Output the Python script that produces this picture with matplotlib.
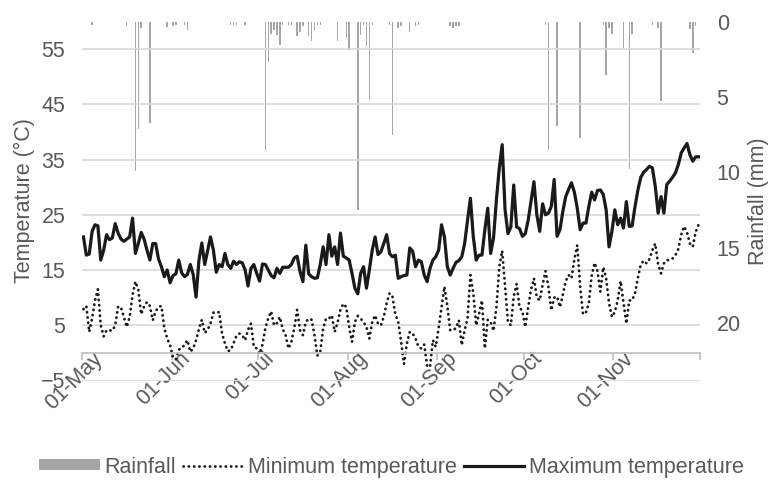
import pandas as pd
import matplotlib
matplotlib.use("Agg")
import matplotlib.pyplot as plt
from matplotlib.patches import Patch
from matplotlib.lines import Line2D
from matplotlib.transforms import ScaledTranslation

plt.rcParams["font.family"] = ["Liberation Sans", "DejaVu Sans"]

# ── daily series, 01-May to 30-Nov ─────────────────────────────
start_date = "2019-05-01"
end_date = "2019-11-30"

max_temp = [
    21.0, 17.7, 17.9, 22.0, 23.2, 23.0, 16.8, 18.6, 21.4, 20.5,
    20.8, 23.4, 21.7, 20.6, 20.2, 20.6, 21.0, 24.4, 18.0, 19.8,
    21.8, 20.6, 18.6, 16.8, 19.8, 19.8, 17.0, 15.6, 13.8, 15.0,
    12.7, 14.0, 14.3, 16.8, 14.5, 13.8, 14.2, 16.0, 14.2, 10.1,
    16.8, 19.9, 16.0, 18.5, 21.0, 18.6, 14.6, 16.0, 15.6, 18.0,
    16.0, 15.3, 16.6, 16.0, 16.5, 16.3, 15.0, 12.1, 15.3, 16.0,
    14.4, 13.0, 16.1, 16.0, 15.0, 14.0, 13.6, 15.3, 14.4, 15.5,
    15.5, 15.5, 16.0, 17.2, 17.5, 14.7, 12.9, 19.5, 14.3, 13.8,
    13.5, 13.6, 16.0, 19.2, 16.0, 21.4, 17.5, 19.2, 16.0, 21.7,
    17.5, 17.2, 16.8, 14.4, 11.7, 10.7, 14.4, 15.6, 11.7, 15.0,
    18.6, 21.0, 17.8, 18.3, 19.8, 21.4, 18.0, 17.4, 17.7, 13.5,
    13.8, 14.0, 14.1, 19.0, 18.4, 15.6, 16.8, 16.5, 14.1, 12.9,
    15.3, 16.8, 17.4, 18.6, 23.2, 21.0, 15.6, 14.1, 15.3, 16.4,
    16.7, 17.4, 19.8, 24.0, 28.0, 21.0, 16.8, 17.7, 17.7, 22.3,
    26.2, 18.0, 20.8, 27.7, 33.5, 37.7, 25.9, 21.6, 22.8, 30.4,
    22.8, 22.5, 21.1, 21.6, 24.0, 27.5, 31.0, 25.0, 22.0, 27.0,
    25.0, 25.3, 26.5, 31.4, 21.1, 22.3, 25.6, 28.3, 29.6, 30.8,
    29.1, 26.2, 22.3, 23.5, 23.5, 26.5, 29.1, 27.7, 29.4, 29.5,
    28.7, 25.9, 19.2, 22.0, 25.9, 23.2, 24.4, 22.6, 27.4, 22.9,
    23.0, 26.5, 29.5, 31.8, 32.7, 33.2, 33.8, 33.5, 30.2, 25.3,
    28.3, 25.3, 30.5, 31.1, 31.8, 32.6, 34.1, 36.2, 37.1, 37.9,
    35.9, 34.7, 35.5, 35.5,
]

min_temp = [
    7.9, 8.5, 3.8, 6.2, 9.5, 11.5, 5.0, 3.0, 4.1, 4.1,
    4.0, 5.0, 8.4, 8.2, 6.5, 4.7, 6.5, 10.5, 12.9, 11.4,
    7.0, 8.4, 9.2, 8.5, 5.9, 7.5, 8.3, 8.5, 4.5, 2.6,
    1.4, -0.8, -1.2, 0.6, 0.8, 1.5, 2.3, 0.2, 0.8, 2.3,
    4.3, 6.0, 3.6, 4.2, 5.3, 7.3, 7.2, 7.4, 3.5, 1.7,
    0.3, 0.5, 1.8, 3.1, 3.5, 3.2, 2.3, 4.2, 5.3, 1.1,
    0.8, -0.2, 1.5, 4.5, 6.3, 7.5, 5.0, 5.4, 6.5, 4.3,
    3.2, 0.8, 2.0, 4.5, 7.8, 4.1, 3.2, 5.6, 6.2, 6.0,
    3.2, -0.5, 0.2, 4.4, 6.2, 6.2, 6.8, 3.8, 5.5, 7.8,
    8.9, 8.3, 4.7, 2.0, 5.6, 6.7, 6.2, 5.6, 4.7, 2.6,
    5.6, 6.8, 5.3, 5.0, 6.5, 9.0, 10.8, 10.2, 7.0, 5.6,
    2.0, -2.0, 1.7, 3.8, 3.5, 2.6, 1.1, 0.8, 1.5, -2.3,
    -2.6, 2.3, 1.1, 4.5, 8.3, 12.0, 8.5, 4.1, 4.1, 4.5,
    5.9, 1.4, 4.1, 6.2, 14.1, 10.8, 5.0, 7.1, 9.5, 0.8,
    6.0, 5.6, 4.0, 8.3, 15.6, 18.5, 12.0, 5.6, 5.0, 10.2,
    12.5, 8.3, 7.5, 4.7, 8.3, 11.5, 13.5, 10.0, 9.5, 12.3,
    14.8, 12.0, 7.7, 10.0, 10.2, 8.3, 10.5, 13.0, 14.1, 13.5,
    17.0, 19.5, 12.0, 7.0, 7.3, 9.0, 14.0, 16.3, 14.8, 11.1,
    15.5, 13.5, 9.0, 6.5, 7.4, 9.5, 13.0, 9.2, 5.3, 9.5,
    9.5, 10.8, 13.6, 16.0, 16.7, 16.2, 17.0, 18.6, 19.8, 16.0,
    14.4, 16.2, 16.8, 16.8, 17.1, 17.7, 18.8, 21.4, 22.9, 21.8,
    19.8, 19.2, 21.9, 23.2,
]

# rainy days only; every other day is dry
rain_dates = [
    "2019-05-04", "2019-05-16", "2019-05-19", "2019-05-20", "2019-05-21",
    "2019-05-24", "2019-05-30", "2019-06-01", "2019-06-02", "2019-06-05",
    "2019-06-06", "2019-06-21", "2019-06-22", "2019-06-23", "2019-06-26",
    "2019-07-03", "2019-07-04", "2019-07-05", "2019-07-06", "2019-07-07",
    "2019-07-08", "2019-07-09", "2019-07-11", "2019-07-12", "2019-07-14",
    "2019-07-15", "2019-07-16", "2019-07-18", "2019-07-19", "2019-07-20",
    "2019-07-21", "2019-07-22", "2019-07-28", "2019-07-31", "2019-08-01",
    "2019-08-04", "2019-08-05", "2019-08-06", "2019-08-07", "2019-08-08",
    "2019-08-09", "2019-08-15", "2019-08-16", "2019-08-18", "2019-08-19",
    "2019-08-22", "2019-08-24", "2019-08-25", "2019-09-05", "2019-09-06",
    "2019-09-07", "2019-09-08", "2019-10-08", "2019-10-09", "2019-10-12",
    "2019-10-20", "2019-10-28", "2019-10-29", "2019-10-30", "2019-10-31",
    "2019-11-04", "2019-11-06", "2019-11-07", "2019-11-14", "2019-11-16",
    "2019-11-17", "2019-11-27", "2019-11-28", "2019-11-29",
]
rain_mm = [
    0.2, 0.3, 9.9, 7.1, 0.4,
    6.7, 0.35, 0.3, 0.2, 0.2,
    0.55, 0.2, 0.2, 0.2, 0.2,
    8.5, 2.7, 0.8, 0.55, 0.9,
    1.55, 0.2, 0.2, 0.2, 0.95,
    0.7, 0.3, 0.95, 1.3, 0.55,
    0.2, 0.2, 1.3, 1.1, 1.9,
    12.5, 0.9, 0.2, 1.6, 5.2,
    0.2, 0.2, 7.55, 0.4, 0.3,
    0.7, 0.3, 0.2, 0.3, 0.4,
    0.3, 0.3, 0.2, 8.55, 6.95,
    7.7, 0.2, 3.55, 0.4, 0.8,
    1.8, 9.8, 0.8, 0.2, 0.4,
    5.3, 0.5, 2.1, 0.3,
]

month_ticks = ["2019-05-01", "2019-06-01", "2019-07-01", "2019-08-01",
               "2019-09-01", "2019-10-01", "2019-11-01", "2019-12-01"]
month_labels = ["01-May", "01-Jun", "01-Jul", "01-Aug",
                "01-Sep", "01-Oct", "01-Nov", ""]
temp_ticks = [-5, 5, 15, 25, 35, 45, 55]
rain_ticks = [0, 5, 10, 15, 20]

# ── styles ─────────────────────────────────────────────────────
TEXT = "#595959"
GRID = "#D9D9D9"
AXIS = "#BFBFBF"
BAR = "#A6A6A6"
LINE = "#1A1A1A"
FS = 15.5
DOTTED = (0, (0.1, 1.8))

days = pd.date_range(start_date, end_date, freq="D")
xpos = days + pd.Timedelta(hours=12)
rain = (pd.Series(rain_mm, index=pd.to_datetime(rain_dates))
        .reindex(days, fill_value=0.0))

fig = plt.figure(figsize=(7.75, 4.8), dpi=100)
ax = fig.add_axes([82 / 775, 1 - 380.5 / 480, 618 / 775, 359 / 480])
ax2 = ax.twinx()
ax.set_zorder(ax2.get_zorder() + 1)
ax.patch.set_visible(False)

# rainfall hangs down from the top on a reversed axis
ax2.bar(xpos, rain.values, width=0.5, color=BAR, linewidth=0)
ax2.set_ylim(23.8, 0)
ax2.set_yticks(rain_ticks)
ax2.tick_params(axis="y", length=0, labelcolor=TEXT, labelsize=FS, pad=12)
ax2.set_ylabel("Rainfall (mm)", color=TEXT, fontsize=FS, labelpad=5)
for s in ax2.spines.values():
    s.set_visible(False)

ax.plot(xpos, min_temp, color=LINE, lw=2.0, ls=DOTTED, dash_capstyle="round")
ax.plot(xpos, max_temp, color=LINE, lw=2.3, solid_joinstyle="round")

ax.set_ylim(-5, 60)
ax.set_yticks(temp_ticks)
ax.grid(axis="y", color=GRID, lw=1.2)
ax.set_axisbelow(True)
ax.tick_params(axis="y", length=0, labelcolor=TEXT, labelsize=FS, pad=12)
ax.set_ylabel("Temperature (°C)", color=TEXT, fontsize=FS, labelpad=4)

ax.set_xlim(pd.Timestamp("2019-05-01"), pd.Timestamp("2019-12-01"))
ax.set_xticks(pd.to_datetime(month_ticks))
ax.set_xticklabels(month_labels)
ax.tick_params(axis="x", direction="out", length=5, width=1.2, color=AXIS,
               labelcolor=TEXT, labelsize=FS, pad=0, labelrotation=45)
for name in ("top", "left", "right"):
    ax.spines[name].set_visible(False)
ax.spines["bottom"].set_position(("data", 0))
ax.spines["bottom"].set_color(AXIS)
ax.spines["bottom"].set_linewidth(1.2)

handles = [
    Patch(facecolor=BAR, edgecolor="none"),
    Line2D([], [], color=LINE, lw=2.0, ls=DOTTED, dash_capstyle="round"),
    Line2D([], [], color=LINE, lw=2.3),
]
labels = ["Rainfall", "Minimum temperature", "Maximum temperature"]
fig.legend(handles, labels, loc="center", bbox_to_anchor=(0.505, 0.027),
           ncol=3, frameon=False, fontsize=FS, labelcolor=TEXT,
           handlelength=2.8, handleheight=0.4, handletextpad=0.2,
           columnspacing=0.35)

# date labels sit centred under their tick, tucked up against the axis line
nudge = ScaledTranslation(-0.08, 0.115, fig.dpi_scale_trans)
for lbl in ax.get_xticklabels():
    lbl.set_horizontalalignment("center")
    lbl.set_verticalalignment("top")
    lbl.set_transform(lbl.get_transform() + nudge)

fig.savefig("out.png", dpi=100)
plt.close(fig)
